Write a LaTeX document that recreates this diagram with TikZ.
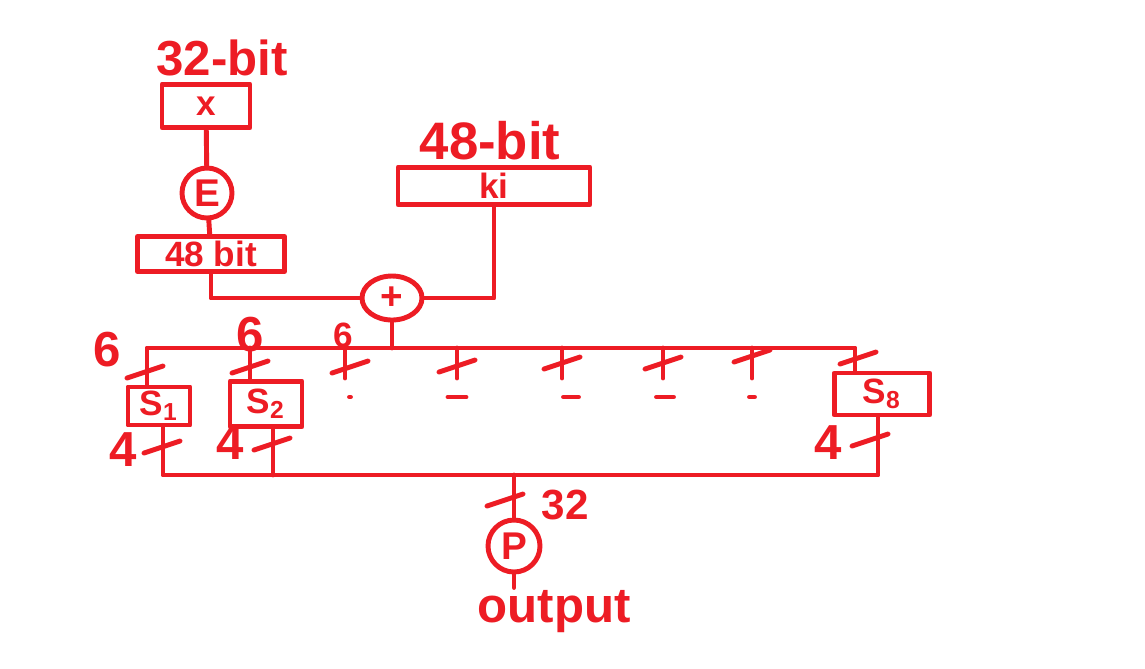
\documentclass[tikz,border=0pt]{standalone}
\usepackage{fontspec}
\setmainfont{Liberation Sans}
\usetikzlibrary{shapes.geometric}
\definecolor{paintred}{RGB}{237,28,36}
\def\busy{348}
\def\outy{475}

\begin{document}
\begin{tikzpicture}[x=0.1mm, y=-0.1mm, line width=1.4pt, line cap=round, line join=round,
    wire/.style={draw=paintred},
    blk/.style={draw=paintred, text=paintred, rectangle, inner sep=0pt, font=\bfseries\fontsize{10}{10}\selectfont},
    op/.style={draw=paintred, text=paintred, circle, inner sep=0pt, minimum size=5mm, font=\bfseries\fontsize{11}{11}\selectfont},
    lbl/.style={text=paintred, inner sep=0pt, font=\bfseries\fontsize{14}{14}\selectfont},
    cut/.pic={\draw[paintred] (-1.8mm,-0.6mm) -- (1.8mm,0.6mm);}]
    \fill[white] (0,0) rectangle (1145,668);
    \useasboundingbox (0,0) rectangle (1145,668);

    \node[lbl, anchor=south] (lx) at (222,78) {32-bit};
    \node[blk, minimum width=8.8mm, minimum height=4.3mm] (x) at (206,106) {x};
    \node[op] (E) at (207,193) {E};
    \node[blk, minimum width=14.7mm, minimum height=3.5mm] (e48) at (211,254) {48 bit};
    \node[op, ellipse, minimum width=6mm, minimum height=4.4mm] (xor) at (392,298) {+};
    \node[lbl, anchor=south, font=\bfseries\fontsize{15}{15}\selectfont] (lk) at (490,162) {48-bit};
    \node[blk, minimum width=19.2mm, minimum height=3.7mm] (k) at (494,186) {ki};

    \node[blk, minimum width=6.2mm, minimum height=3.8mm] (s1) at (159,406) {S\textsubscript{1}};
    \node[blk, minimum width=7.2mm, minimum height=4.5mm] (s2) at (266,404) {S\textsubscript{2}};
    \node[blk, minimum width=9.5mm, minimum height=4.2mm] (s8) at (882,394) {S\textsubscript{8}};
    \node[op, minimum size=5.2mm] (p) at (514,546) {P};
    \node[lbl, anchor=base] (out) at (554,622) {output};

    \node[lbl] (w1) at (107,350) {6};
    \node[lbl] (w2) at (250,335) {6};
    \node[lbl, font=\bfseries\fontsize{10}{10}\selectfont] (w3) at (343,335) {6};
    \node[lbl] (v1) at (123,450) {4};
    \node[lbl] (v2) at (230,443) {4};
    \node[lbl] (v8) at (828,443) {4};
    \node[lbl, font=\bfseries\fontsize{12}{12}\selectfont] (wp) at (565,505) {32};

    \draw[wire] (x) -- (E);
    \draw[wire] (E) -- (e48);
    \draw[wire] (e48.south) |- (xor.west);
    \draw[wire] (k.south) |- (xor.east);

    \coordinate (bw) at (147,\busy);
    \coordinate (be) at (855,\busy);
    \coordinate (b2) at (250,\busy);
    \draw[wire] (bw |- s1.north) -- (bw) -- (be) -- (be |- s8.north);
    \draw[wire] (xor.south) -- (xor.south |- bw);
    \draw[wire] (b2) -- (b2 |- s2.north);
    \foreach \x in {345,457,562,663,752}
        \draw[wire] (\x,\busy) -- (\x,378);
    \foreach \x/\w in {350/1,457/18,571/15,665/17,752/5}
        \draw[wire] (\x-\w/2,397) -- (\x+\w/2,397);

    \coordinate (o1) at (163,\outy);
    \coordinate (o2) at (273,\outy);
    \coordinate (o8) at (878,\outy);
    \draw[wire] (o1 |- s1.south) -- (o1) -- (o8) -- (o8 |- s8.south);
    \draw[wire] (o2 |- s2.south) -- (o2);
    \draw[wire] (p.north) -- (p.north |- o1);
    \draw[wire] (p.south) -- (p.south |- out.north);

    \foreach \x/\y in {145/372, 250/367, 350/367, 457/366, 562/363, 663/363, 752/356, 858/358, 162/447, 272/444, 870/440, 505/500}
        \pic at (\x,\y) {cut};
\end{tikzpicture}
\end{document}
